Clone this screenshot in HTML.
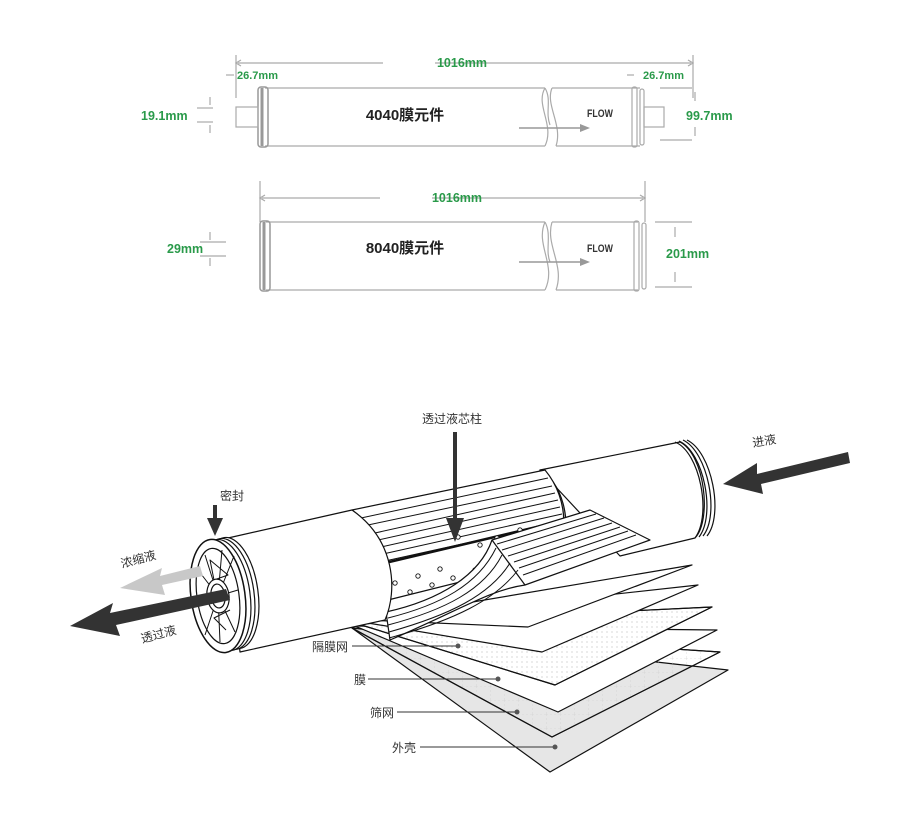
<!DOCTYPE html>
<html><head><meta charset="utf-8"><style>
html,body{margin:0;padding:0;background:#fff;}
svg{display:block}
text{font-family:"Liberation Sans","Noto Sans CJK SC",sans-serif;}
</style></head><body>
<svg width="898" height="830" viewBox="0 0 898 830" xmlns="http://www.w3.org/2000/svg">
<defs>
<pattern id="dots" width="5" height="5" patternUnits="userSpaceOnUse"><circle cx="2" cy="2" r="0.6" fill="#bbb"/></pattern>
<pattern id="grid" width="14" height="14" patternUnits="userSpaceOnUse"><path d="M0 0H14M0 0V14" stroke="#ccc" stroke-width="0.6" stroke-dasharray="2 2" fill="none"/></pattern>
</defs>

<!-- ===== TOP DIAGRAM 1 ===== -->
<g stroke="#aaa" fill="none" stroke-width="1.2">
<line x1="236" y1="55" x2="236" y2="98"/>
<line x1="693" y1="55" x2="693" y2="98"/>
<line x1="238" y1="63" x2="383" y2="63"/><line x1="435" y1="63" x2="691" y2="63"/>
<path d="M241 60 L236 63 L241 66 M688 60 L693 63 L688 66" />
<line x1="226" y1="75" x2="234" y2="75"/><line x1="627" y1="75" x2="634" y2="75"/>
<path d="M265 88 L545 88 M265 146 L545 146"/>
<path d="M552 88 L640 88 M556 146 L640 146"/>
<path d="M545 88 C535 105 555 125 545 146 M552 88 C545 105 563 125 556 146 M545 88 C552 100 545 112 550 125"/>
<rect x="258" y="87" width="10" height="60" rx="3" stroke="#999" stroke-width="1.5"/>
<line x1="262" y1="88" x2="262" y2="146" stroke="#999" stroke-width="3"/>
<rect x="632" y="87" width="5" height="60" rx="2"/>
<rect x="640" y="89" width="4" height="56" rx="2"/>
<rect x="236" y="107" width="22" height="20"/>
<rect x="644" y="107" width="20" height="20"/>
<line x1="197" y1="108" x2="213" y2="108"/><line x1="197" y1="122" x2="213" y2="122"/>
<line x1="210" y1="97" x2="210" y2="105"/><line x1="210" y1="125" x2="210" y2="133"/>
<line x1="660" y1="88" x2="692" y2="88"/>
<line x1="660" y1="140" x2="692" y2="140"/>
<line x1="695" y1="92" x2="695" y2="101"/><line x1="695" y1="127" x2="695" y2="136"/>
</g>
<line x1="519" y1="128" x2="580" y2="128" stroke="#999" stroke-width="1.5"/>
<path d="M580 124 L590 128 L580 132Z" fill="#999"/>
<g fill="#2a9a4a" font-size="12.5" font-weight="bold">
<text x="462" y="67" text-anchor="middle">1016mm</text>
<text x="237" y="79" font-size="11">26.7mm</text>
<text x="643" y="79" font-size="11">26.7mm</text>
<text x="141" y="120">19.1mm</text>
<text x="686" y="120">99.7mm</text>
</g>
<text x="405" y="120" text-anchor="middle" font-size="15" font-weight="bold" fill="#222">4040膜元件</text>
<text x="600" y="117" text-anchor="middle" font-size="11" font-weight="bold" fill="#333" transform="scale(0.8,1) translate(150,0)">FLOW</text>

<!-- ===== TOP DIAGRAM 2 ===== -->
<g stroke="#aaa" fill="none" stroke-width="1.2">
<line x1="260" y1="181" x2="260" y2="222"/>
<line x1="645" y1="181" x2="645" y2="222"/>
<line x1="262" y1="198" x2="380" y2="198"/><line x1="432" y1="198" x2="643" y2="198"/>
<path d="M265 195 L260 198 L265 201 M640 195 L645 198 L640 201"/>
<path d="M266 222 L545 222 M266 290 L545 290"/>
<path d="M552 222 L638 222 M556 290 L638 290"/>
<path d="M545 222 C535 245 557 265 545 290 M552 222 C545 245 565 265 556 290 M545 222 C552 235 545 250 550 262"/>
<rect x="260" y="221" width="10" height="70" rx="3" stroke="#999" stroke-width="1.5"/>
<line x1="264" y1="222" x2="264" y2="290" stroke="#999" stroke-width="3"/>
<rect x="634" y="221" width="5" height="70" rx="2"/>
<rect x="642" y="223" width="4" height="66" rx="2"/>
<line x1="200" y1="242" x2="226" y2="242"/><line x1="200" y1="256" x2="226" y2="256"/>
<line x1="210" y1="232" x2="210" y2="240"/><line x1="210" y1="258" x2="210" y2="266"/>
<line x1="655" y1="222" x2="692" y2="222"/><line x1="655" y1="287" x2="692" y2="287"/>
<line x1="675" y1="227" x2="675" y2="237"/><line x1="675" y1="272" x2="675" y2="282"/>
</g>
<line x1="519" y1="262" x2="580" y2="262" stroke="#999" stroke-width="1.5"/>
<path d="M580 258 L590 262 L580 266Z" fill="#999"/>
<g fill="#2a9a4a" font-size="12.5" font-weight="bold">
<text x="457" y="202" text-anchor="middle">1016mm</text>
<text x="167" y="253">29mm</text>
<text x="666" y="258">201mm</text>
</g>
<text x="405" y="253" text-anchor="middle" font-size="15" font-weight="bold" fill="#222">8040膜元件</text>
<text x="600" y="252" text-anchor="middle" font-size="11" font-weight="bold" fill="#333" transform="scale(0.8,1) translate(150,0)">FLOW</text>

<!-- ===== BOTTOM 3D ===== -->
<g stroke="#111" stroke-width="1.2" stroke-linejoin="round">
<polygon points="352,628 728,670 550,772" fill="#e6e6e6"/>
<polygon points="352,628 720,652 552,737" fill="url(#grid)"/>
<polygon points="352,628 720,652 552,737" fill="none"/>
<polygon points="355,626 717,630 558,712" fill="#fff"/>
<polygon points="358,624 712,607 555,685" fill="#fff"/>
<polygon points="358,624 712,607 555,685" fill="url(#dots)"/>
<polygon points="362,622 698,585 542,652" fill="#fff"/>
<polygon points="366,620 692,565 528,627" fill="#fff"/>
<path d="M540 470 L680 442 C705 455 712 520 695 538 L620 556 Z" fill="#fff"/>
<path d="M540 470 C560 480 575 520 560 560 L540 565 Z" fill="#bbb"/>
<path d="M675 442 C700 452 712 515 695 538" fill="none"/>
<path d="M679 441 C704 452 716 515 699 537" fill="none"/>
<path d="M683 440 C708 452 720 515 703 536" fill="none"/>
<path d="M687 440 C712 452 724 515 707 536" fill="none"/>
<path d="M352 510 L545 470 C570 500 570 545 545 565 L385 618 C395 580 392 540 352 510Z" fill="#fff"/>
<g fill="none" stroke-width="1">
<path d="M375 533 L555 493"/><path d="M378 540 L558 500"/><path d="M381 547 L560 507"/>
<path d="M383 554 L562 514"/><path d="M385 561 L562 522"/><path d="M361 518 L548 478"/><path d="M368 525 L552 486"/>
</g>
<path d="M385 563 L545 525 L548 560 L388 600Z" fill="#fff"/>
<line x1="385" y1="563" x2="545" y2="525" stroke-width="2.5"/>
<g fill="#fff" stroke-width="0.9">
<circle cx="395" cy="583" r="2.2"/><circle cx="410" cy="592" r="2.2"/><circle cx="418" cy="576" r="2.2"/>
<circle cx="432" cy="585" r="2.2"/><circle cx="440" cy="569" r="2.2"/><circle cx="453" cy="578" r="2.2"/>
<circle cx="458" cy="537" r="2.2"/><circle cx="475" cy="570" r="2.2"/><circle cx="497" cy="538" r="2.2"/>
<circle cx="520" cy="530" r="2.2"/><circle cx="480" cy="545" r="2.2"/>
</g>
<path d="M492 540 L590 510 L650 540 L525 585 C490 590 460 610 390 640 L386 612 C440 600 480 575 492 540Z" fill="#fff"/>
<g fill="none" stroke-width="1">
<path d="M497 544 L596 514"/><path d="M502 550 L604 518"/><path d="M508 556 L612 523"/><path d="M514 562 L620 527"/><path d="M519 568 L628 531"/><path d="M523 575 L636 535"/>
<path d="M388 618 C440 605 478 585 496 548"/><path d="M388 625 C445 610 484 590 502 555"/><path d="M389 632 C450 615 490 595 510 563"/>
<path d="M389 638 C455 620 495 600 518 570"/>
</g>
<line x1="492" y1="540" x2="525" y2="585"/>
<path d="M228 538 L352 510 C395 540 398 590 385 620 L240 652 Z" fill="#fff"/>
<ellipse cx="232" cy="593" rx="26" ry="56" fill="#fff" transform="rotate(-8 232 593)"/>
<ellipse cx="228" cy="594" rx="26" ry="56" fill="#fff" transform="rotate(-8 228 594)"/>
<ellipse cx="224" cy="595" rx="26" ry="56" fill="#fff" transform="rotate(-8 224 595)"/>
<ellipse cx="218" cy="596" rx="27" ry="57" fill="#fff" stroke-width="1.5" transform="rotate(-8 218 596)"/>
<ellipse cx="218" cy="596" rx="21" ry="48" fill="#fff" transform="rotate(-8 218 596)"/>
<g stroke-width="1" fill="none">
<path d="M218 596 L205 555 M218 596 L222 550 M218 596 L234 556 M218 596 L238 590 M218 596 L235 632 M218 596 L220 642 M218 596 L205 635 M218 596 L198 600 M218 596 L198 570 M210 560 L228 575 L214 580Z M230 610 L214 618 L226 630"/>
</g>
<ellipse cx="218" cy="596" rx="11" ry="17" fill="#fff" transform="rotate(-8 218 596)"/>
<ellipse cx="218" cy="596" rx="7" ry="12" fill="#fff" transform="rotate(-8 218 596)"/>
</g>
<path d="M200 566 L160 576 L162 568 L120 588 L165 595 L162 585 L203 576Z" fill="#c8c8c8"/>
<path d="M226 589 L110 613 L113 603 L70 626 L120 636 L116 625 L230 600Z" fill="#333"/>
<path d="M848 452 L757 474 L757 463 L723 484 L763 494 L761 484 L850 463Z" fill="#333"/>
<rect x="453" y="432" width="4" height="90" fill="#333"/>
<path d="M446 518 L455 542 L464 518Z" fill="#333"/>
<rect x="213" y="505" width="4" height="17" fill="#333"/>
<path d="M207 518 L215 536 L223 518Z" fill="#333"/>
<g font-size="12" fill="#333">
<text x="452" y="423" text-anchor="middle">透过液芯柱</text>
<text x="752" y="445" transform="rotate(-10 765 440)">进液</text>
<text x="220" y="500">密封</text>
<text x="120" y="563" transform="rotate(-15 140 558)">浓缩液</text>
<text x="140" y="638" transform="rotate(-15 160 632)">透过液</text>
<text x="312" y="651">隔膜网</text>
<text x="354" y="684">膜</text>
<text x="370" y="717">筛网</text>
<text x="392" y="752">外壳</text>
</g>
<g stroke="#333" stroke-width="1">
<line x1="352" y1="646" x2="457" y2="646"/>
<line x1="368" y1="679" x2="497" y2="679"/>
<line x1="397" y1="712" x2="516" y2="712"/>
<line x1="420" y1="747" x2="554" y2="747"/>
</g>
<g fill="#555"><circle cx="458" cy="646" r="2.5"/><circle cx="498" cy="679" r="2.5"/><circle cx="517" cy="712" r="2.5"/><circle cx="555" cy="747" r="2.5"/></g>
</svg>
</body></html>
